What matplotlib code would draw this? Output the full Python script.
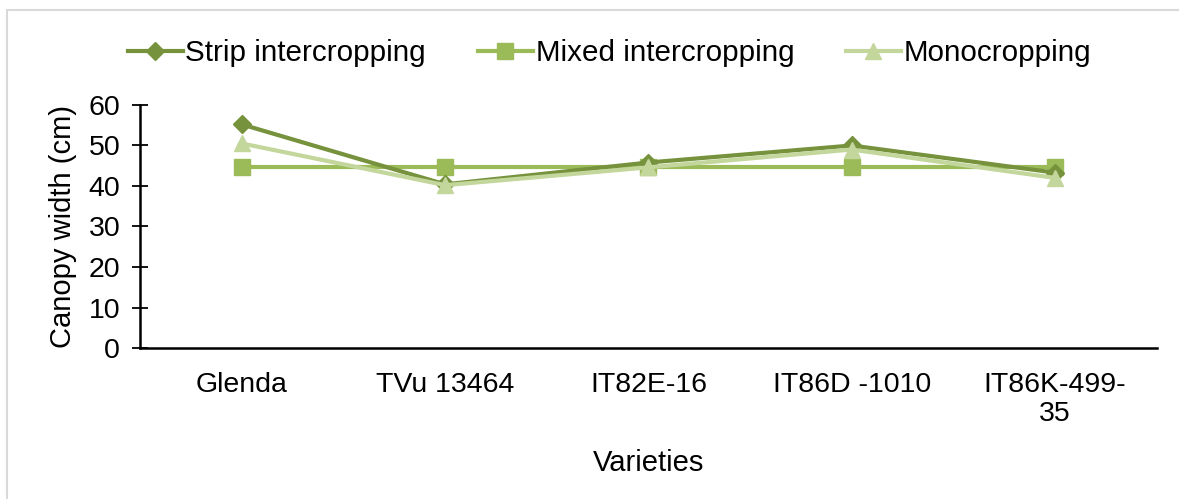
import matplotlib.pyplot as plt
from matplotlib.patches import Rectangle

plt.rcParams['font.family'] = ['Liberation Sans', 'DejaVu Sans']

varieties = ['Glenda', 'TVu 13464', 'IT82E-16', 'IT86D -1010', 'IT86K-499-\n35']
strip = [55.2, 40.4, 45.8, 50.0, 43.3]
mixed = [44.7, 44.7, 44.7, 44.7, 44.7]
mono = [50.5, 40.2, 44.6, 49.0, 42.0]

fig = plt.figure(figsize=(11.79, 4.99), dpi=100)
ax = fig.add_axes([0.119, 0.3026, 0.862, 0.487])

x = range(len(varieties))
ax.plot(x, strip, color='#76923c', lw=3, marker='D', ms=9.5, label='Strip intercropping', zorder=3)
ax.plot(x, mixed, color='#9bbb59', lw=3, marker='s', ms=11, label='Mixed intercropping', zorder=2)
ax.plot(x, mono, color='#c3d69b', lw=3, marker='^', ms=12, label='Monocropping', zorder=4)

ax.set_xlim(-0.5, len(varieties) - 0.5)
ax.set_ylim(0, 60)
ax.set_yticks(range(0, 61, 10))
ax.set_xticks(list(x))
ax.set_xticklabels(varieties, fontsize=20.5, linespacing=1.15)
ax.tick_params(axis='y', labelsize=20.5, direction='inout', length=11, width=1.3, pad=9)
ax.tick_params(axis='x', length=0, pad=17)
for s in ['top', 'right']:
    ax.spines[s].set_visible(False)
for s in ['left', 'bottom']:
    ax.spines[s].set_linewidth(1.8)

ax.set_ylabel('Canopy width (cm)', fontsize=21, labelpad=8)
ax.set_xlabel('Varieties', fontsize=21, labelpad=16)

fig.legend(loc='upper center', bbox_to_anchor=(0.517, 0.975), ncol=3, frameon=False,
           fontsize=21.3, handlelength=1.85, handletextpad=0.1, columnspacing=1.75)

# thin grey frame round the chart
fig.patches.append(Rectangle((0.006, -0.02), 1.1, 1.0, transform=fig.transFigure,
                             fill=False, edgecolor='#d9d9d9', lw=1.5))

fig.savefig('out.png', dpi=100)
